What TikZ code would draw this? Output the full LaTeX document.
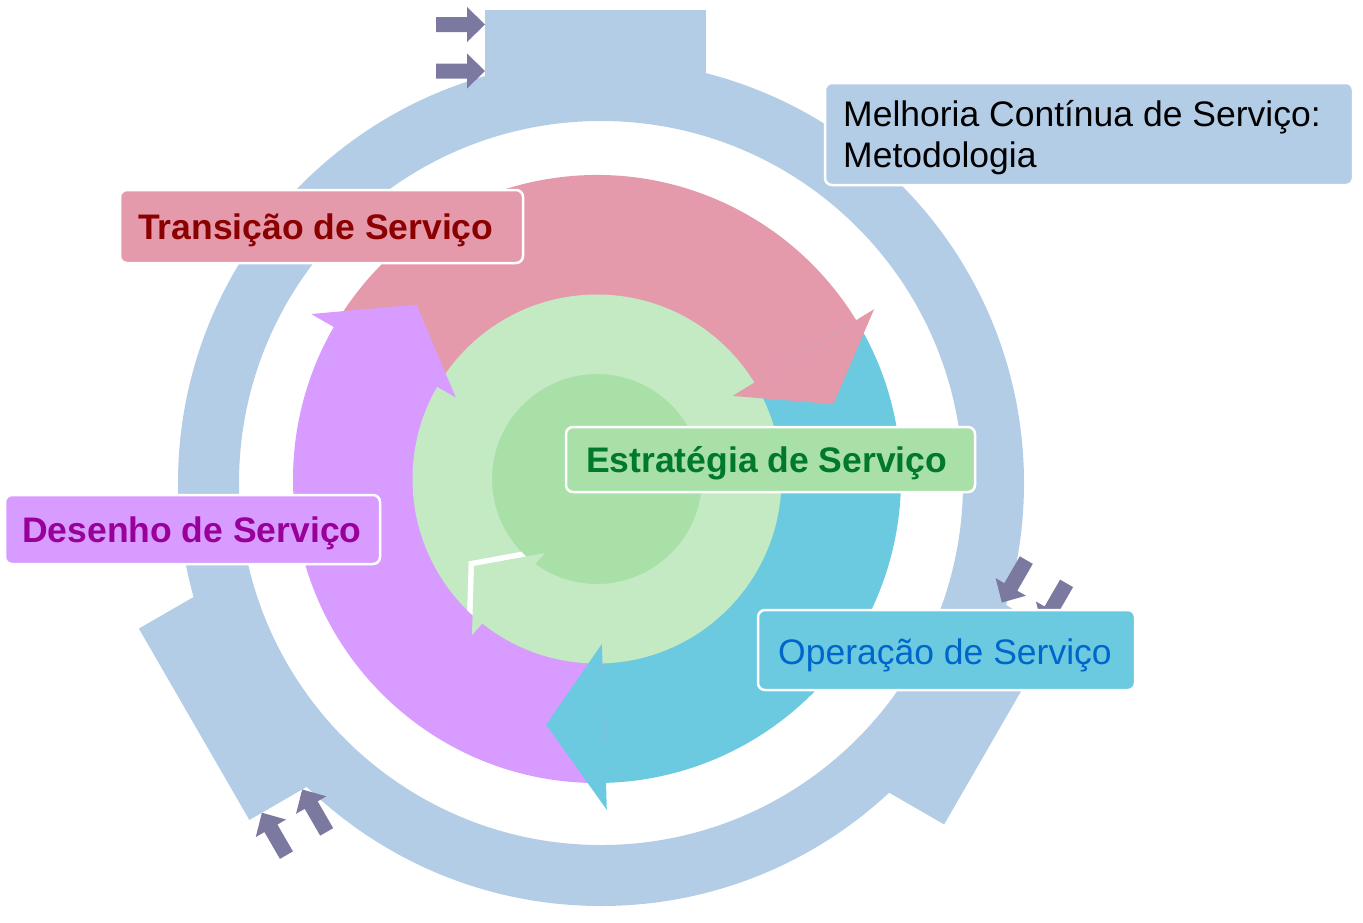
\documentclass[tikz,border=0pt]{standalone}
\usepackage{fontspec}
\setmainfont{Liberation Sans}
\definecolor{ringc}{RGB}{180,205,230}
\definecolor{pinkc}{RGB}{228,154,170}
\definecolor{cyanc}{RGB}{107,202,223}
\definecolor{purpc}{RGB}{216,155,255}
\definecolor{lgreen}{RGB}{195,234,195}
\definecolor{dgreen}{RGB}{168,224,168}
\definecolor{arrc}{RGB}{124,121,160}
\definecolor{tred}{RGB}{139,0,0}
\definecolor{tgreen}{RGB}{0,120,45}
\definecolor{tpurp}{RGB}{153,0,153}
\definecolor{tblue}{RGB}{0,102,204}
\newcommand\mytabgroup{%
  \fill[ringc] (-116,375) rectangle (105,473);
  \fill[arrc] (-165,451) -- (-134,451) -- (-134,441) -- (-116,458.5) -- (-134,476) -- (-134,466) -- (-165,466) -- cycle;
  \fill[arrc] (-165,404.5) -- (-134,404.5) -- (-134,394.5) -- (-116,412) -- (-134,429.5) -- (-134,419.5) -- (-165,419.5) -- cycle;
}
\begin{document}
\begin{tikzpicture}[x=1pt,y=-1pt,
  lbl/.style={draw=white, line width=2.5pt, rounded corners=7pt},
  txt/.style={anchor=base west, inner sep=0pt, font=\fontsize{35.5}{41}\selectfont},
  txtb/.style={txt, font=\fontsize{35.5}{41}\selectfont\bfseries},
]
\useasboundingbox (0,0) rectangle (1363,922);

% outer ring with tabs and small arrows
\begin{scope}[shift={(601,483)}, yscale=-1]
  \fill[ringc, even odd rule] (0,0) circle[radius=423] (0,0) circle[radius=362];
  \mytabgroup
\end{scope}
% lower left
\begin{scope}[shift={(601,483)}, yscale=-1, rotate=-120]
  \mytabgroup
\end{scope}
% lower right
\begin{scope}[shift={(587,497)}, yscale=-1, rotate=120]
  \mytabgroup
\end{scope}

% inner circular arrows
\begin{scope}[shift={(597,479)}, yscale=-1]
  % bodies
  \fill[pinkc] (150:304) arc[start angle=150, end angle=30.5, radius=304] -- (30.5:183) arc[start angle=30.5, end angle=150, radius=183] -- cycle;
  \fill[cyanc] (31.5:304) arc[start angle=31.5, end angle=-89.3, radius=304] -- (-89.3:183) arc[start angle=-89.3, end angle=31.5, radius=183] -- cycle;
  \fill[purpc] (271.7:304) arc[start angle=271.7, end angle=149, radius=304] -- (149:183) arc[start angle=149, end angle=271.7, radius=183] -- cycle;
  % green core
  \fill[dgreen] (0,0) circle[radius=106];
  \fill[lgreen, even odd rule] (0,0) circle[radius=184.5] (0,0) circle[radius=105];
  \begin{scope}[even odd rule]
    \clip (0,0) circle[radius=184.5] (0,0) circle[radius=105];
    \draw[white, line width=11pt, line join=miter] (-52,-74) -- (-123,-87) -- (-125,-156);
  \end{scope}
  \fill[lgreen] (-52,-74) -- (-123,-87) -- (-125,-156) -- cycle;
  % heads
  \fill[pinkc] (31.5:325) -- (17.6:248) -- (31.5:159) -- cycle;
  \fill[purpc] (150:330) -- (136:251) -- (150:163) -- cycle;
  \fill[cyanc] (-88.3:331) -- (-101.7:251) -- (-88.3:165) -- cycle;
\end{scope}

% labels
\path[lbl, fill=ringc] (825,83) rectangle (1353,185);
\node[txt] (mel1) at (843,126) {Melhoria Contínua de Serviço:};
\node[txt] (mel2) at (843,167) {Metodologia};

\path[lbl, fill=pinkc] (120,190) rectangle (523,263);
\node[txtb, text=tred] (trans) at (138,239) {Transição de Serviço};

\path[lbl, fill=dgreen] (566,427) rectangle (975,492);
\node[txtb, text=tgreen] (estr) at (586,472) {Estratégia de Serviço};

\path[lbl, fill=purpc] (5,495) rectangle (380,564);
\node[txtb, text=tpurp] (des) at (22,542) {Desenho de Serviço};

\path[lbl, fill=cyanc] (758,610) rectangle (1135,690);
\node[txt, text=tblue] (oper) at (778,664) {Operação de Serviço};
\end{tikzpicture}
\end{document}
